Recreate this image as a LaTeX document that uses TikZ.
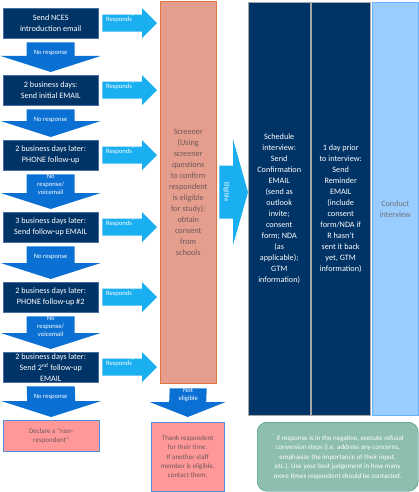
\documentclass[tikz,border=0pt]{standalone}
\usepackage{fontspec}
\setmainfont{Carlito}
\usetikzlibrary{calc}
\definecolor{navy}{RGB}{0,51,102}
\definecolor{navyborde}{RGB}{70,110,160}
\definecolor{bajada}{RGB}{10,112,212}
\definecolor{lado}{RGB}{25,175,240}
\definecolor{salmon}{RGB}{229,158,142}
\definecolor{salmonborde}{RGB}{224,118,60}
\definecolor{rosa}{RGB}{255,153,153}
\definecolor{rosaborde}{RGB}{80,140,220}
\definecolor{celeste}{RGB}{153,204,255}
\definecolor{celesteborde}{RGB}{100,178,255}
\definecolor{verde}{RGB}{141,190,174}
\definecolor{verdeborde}{RGB}{50,140,120}
\definecolor{textogris}{RGB}{110,88,88}
\tikzset{
	caja/.style={anchor=north west,inner sep=1pt,align=center,
		font=\fontsize{8.2}{11}\selectfont},
	paso/.style={caja,draw=navyborde,fill=navy,text=white,
		minimum width=95pt,minimum height=30pt},
	columna/.style={caja,draw=gray!70,fill=navy,text=white,minimum height=413pt},
	aviso/.style={caja,draw=rosaborde,fill=rosa,text=textogris,
		font=\fontsize{7}{9.3}\selectfont},
	flechatxt/.style={text=white,align=center,inner sep=0pt,
		font=\fontsize{6.6}{8}\selectfont},
}
\begin{document}
\begin{tikzpicture}[x=1pt,y=-1pt]
\useasboundingbox (0,0) rectangle (419,492);
% pasos de la izquierda
\foreach \Yc/\Nombre/\Texto in
{8/p1/{Send NCES\\introduction email},
 75/p2/{2 business days:\\Send initial EMAIL},
 140/p3/{2 business days later:\\PHONE follow-up},
 212/p4/{3 business days later:\\Send follow-up EMAIL},
 282/p5/{2 business days later:\\PHONE follow-up \#2},
 352/p6/{2 business days later:\\Send 2\textsuperscript{nd} follow-up\\EMAIL}}
{
	\node[paso] (\Nombre) at (3,\Yc) {\Texto};
}
\node[aviso,minimum width=96pt,minimum height=31pt] (nr) at (3,420)
	{Declare a ``non-\\respondent''};
% columnas
\node[caja,draw=salmonborde,fill=salmon,text=textogris,
	minimum width=56pt,minimum height=382pt] (scr) at (160,1)
	{Screener\\(Using\\screener\\questions\\to confirm\\respondent\\is eligible\\for study);\\obtain\\consent\\from\\schools};
\node[columna,minimum width=62pt] (sch) at (248,2)
	{Schedule\\interview:\\Send\\Confirmation\\EMAIL\\(send as\\outlook\\invite;\\consent\\form; NDA\\(as\\applicable);\\GTM\\information)};
\node[columna,minimum width=59pt] (rem) at (311,2)
	{1 day prior\\to interview:\\Send\\Reminder\\EMAIL\\(include\\consent\\form/NDA if\\R hasn't\\sent it back\\yet, GTM\\information)};
\node[caja,draw=celesteborde,fill=celeste,text=gray!90!black,
	minimum width=46pt,minimum height=413pt] (cond) at (372,2)
	{Conduct\\interview};
\node[aviso,minimum width=73pt,minimum height=69pt] (gr) at (151,422)
	{Thank respondent\\for their time.\\If another staff\\member is eligible,\\contact them.};
\node[caja,draw=verdeborde,fill=verde,text=white,rounded corners=10pt,
	font=\fontsize{7}{9.5}\selectfont,
	minimum width=161pt,minimum height=69pt] (nota) at (257,422)
	{\textsuperscript{*} If response is in the negative, execute refusal\\conversion steps (i.e. address any concerns,\\emphasize the importance of their input,\\etc.). Use your best judgement in how many\\more times respondent should be contacted.};
% sin respuesta
\foreach \A/\B/\Texto in
{p1/p2/{No response},p2/p3/{No response},p3/p4/{No\\response/\\voicemail},
 p4/p5/{No response},p5/p6/{No\\response/\\voicemail},p6/nr/{No response}}
{
	\fill[bajada] ($(\A.south)+(-24,4)$) -- ($(\A.south)+(24,4)$)
		-- ($(\B.north)+(24,-19)$) -- ($(\B.north)+(50,-19)$)
		-- ($(\B.north)+(0,-3)$) -- ($(\B.north)+(-50,-19)$)
		-- ($(\B.north)+(-24,-19)$) -- cycle;
	\node[flechatxt] at ($(\A.south)+(0,14.5)$) {\Texto};
}
% responde
\foreach \A in {p1,p2,p3,p4,p5,p6}
{
	\fill[lado] ($(\A.east)+(4,-8.5)$) -- ($(\A.east -| scr.west)+(-18,-8.5)$)
		-- ($(\A.east -| scr.west)+(-18,-15)$) -- ($(\A.east -| scr.west)+(-3,0)$)
		-- ($(\A.east -| scr.west)+(-18,15)$) -- ($(\A.east -| scr.west)+(-18,8.5)$)
		-- ($(\A.east)+(4,8.5)$) -- cycle;
	\node[flechatxt] at ($(\A.east)+(22,-4)$) {Responds\textsuperscript{*}};
}
% elegible
\fill[lado] ($(scr.east)+(3,-26.5)$) -- ($(scr.east -| sch.west)+(-15,-26.5)$)
	-- ($(scr.east -| sch.west)+(-15,-53)$) -- (scr.east -| sch.west)
	-- ($(scr.east -| sch.west)+(-15,53)$) -- ($(scr.east -| sch.west)+(-15,26.5)$)
	-- ($(scr.east)+(3,26.5)$) -- cycle;
\node[flechatxt,rotate=-90] at ($(scr.east)+(10,0)$) {Eligible};
% no elegible
\fill[bajada] ($(scr.south)+(-18.5,5)$) -- ($(scr.south)+(18.5,5)$)
	-- ($(gr.north)+(18.5,-20)$) -- ($(gr.north)+(38,-20)$)
	-- ($(gr.north)+(0,-5)$) -- ($(gr.north)+(-38,-20)$)
	-- ($(gr.north)+(-18.5,-20)$) -- cycle;
\node[flechatxt] at ($(scr.south)+(0,12)$) {Not\\eligible};
\end{tikzpicture}
\end{document}
